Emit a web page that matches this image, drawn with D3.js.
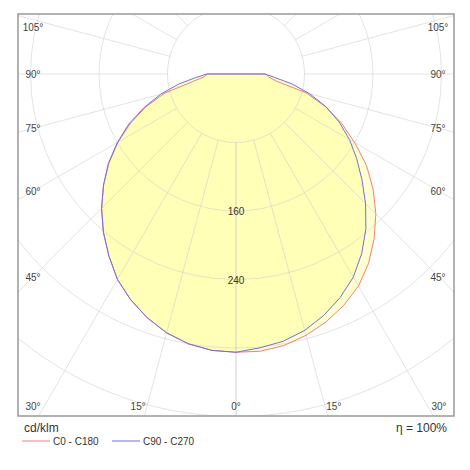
<!DOCTYPE html>
<html><head><meta charset="utf-8">
<script src="https://cdn.jsdelivr.net/npm/d3@7"></script>
<style>body{margin:0;background:#fff;font-family:"Liberation Sans",Arial,sans-serif}</style>
</head><body><svg id="c" width="470" height="470"></svg>
<script>
// angles (deg from nadir) and intensities in cd/klm
const angles = [0,5,10,15,20,25,30,35,40,45,50,55,60,65,70,75,80,85,90];
const c0Left  = [325,324,320,313,303,291,277,259,241,222,202,181,159,136,112,86,52,37,34];
const c0Right = [325,325,322,316,308,298,286,270,251,231,209,186,160,136,111,85,48,38,35];
const c90Left = [325,324,320,313,303,291,277,259,241,222,202,182,160,138,114,91,68,47,34];
const c90Right= [322,321,317,310,300,288,274,256,236,214,192,172,153,133,112,89,66,45,34];
const ringValues = [80,160,240,320,400,480];
const ringLabels = [160,240];
const spokeAngles = d3.range(0,181,15);
const sideLabels = [45,60,75,90,105];
const bottomLabels = [0,15,30];

const svg = d3.select('#c');
const cx = 236, cy = 74;
const frame = {x:18, y:14, w:436, h:402};
const r = d3.scaleLinear().domain([0,80]).range([0,68.5]);
const pt = (deg, v) => { const a = deg*Math.PI/180; return [cx + r(v)*Math.sin(a), cy + r(v)*Math.cos(a)]; };

svg.append('clipPath').attr('id','clip').append('rect')
  .attr('x',frame.x).attr('y',frame.y).attr('width',frame.w).attr('height',frame.h);
const g = svg.append('g').attr('clip-path','url(#clip)');

const curve = (left, right) => {
  const pts = [];
  angles.forEach((a,i) => pts.push(pt(-a, left[i])));
  pts.reverse();
  angles.forEach((a,i) => { if (i>0) pts.push(pt(a, right[i])); });
  return pts;
};
const line = d3.line().curve(d3.curveLinearClosed);
const red = curve(c0Left, c0Right), blue = curve(c90Left, c90Right);

g.append('path').attr('d', line(red)).attr('fill','rgba(255,255,160,0.5)');
g.append('path').attr('d', line(blue)).attr('fill','rgba(255,255,160,0.5)');

ringValues.forEach(v => g.append('circle').attr('cx',cx).attr('cy',cy).attr('r',r(v))
  .attr('fill','none').attr('stroke','#ccc').attr('stroke-opacity',0.7).attr('stroke-width',0.8));
spokeAngles.forEach(a => [a,-a].forEach(s => {
  const p0 = pt(s, 80), p1 = pt(s, 700);
  g.append('line').attr('x1',p0[0]).attr('y1',p0[1]).attr('x2',p1[0]).attr('y2',p1[1])
    .attr('stroke','#ccc').attr('stroke-opacity',0.7).attr('stroke-width',0.8);
}));

g.append('path').attr('d', line(red)).attr('fill','none').attr('stroke','#f08080').attr('stroke-width',1);
g.append('path').attr('d', line(blue)).attr('fill','none').attr('stroke','#7070e0').attr('stroke-width',1);

svg.append('rect').attr('x',frame.x).attr('y',frame.y).attr('width',frame.w).attr('height',frame.h)
  .attr('fill','none').attr('stroke','#999').attr('stroke-width',1.5);

ringLabels.forEach(v => svg.append('text').attr('x',cx).attr('y',cy + r(v)+4)
  .attr('text-anchor','middle').attr('font-size',10).attr('fill','#333').text(v));

const lx = 33, rx = 438;
sideLabels.forEach(a => {
  const y = Math.max(27, cy + (cx - lx)/Math.tan(a*Math.PI/180));
  [lx, rx].forEach(x => svg.append('text').attr('x',x).attr('y',y+3.5)
    .attr('text-anchor','middle').attr('font-size',10).attr('fill','#444').text(a+'°'));
});
bottomLabels.forEach(a => {
  const dx = Math.min(cx - lx, 332*Math.tan(a*Math.PI/180)*1.1);
  const xs = a === 0 ? [cx] : [cx - dx, cx + dx];
  xs.forEach(x => svg.append('text').attr('x',x).attr('y',410)
    .attr('text-anchor','middle').attr('font-size',10).attr('fill','#444').text(a+'°'));
});

svg.append('text').attr('x',24).attr('y',432).attr('font-size',12).attr('fill','#333').text('cd/klm');
svg.append('text').attr('x',447).attr('y',432).attr('text-anchor','end').attr('font-size',12).attr('fill','#333').text('η = 100%');
[['C0 - C180','#f08080',22],['C90 - C270','#7070e0',112]].forEach(([t,c,x]) => {
  svg.append('line').attr('x1',x).attr('x2',x+28).attr('y1',441).attr('y2',441).attr('stroke',c);
  svg.append('text').attr('x',x+31).attr('y',445).attr('font-size',10).attr('fill','#333').text(t);
});
</script></body></html>
